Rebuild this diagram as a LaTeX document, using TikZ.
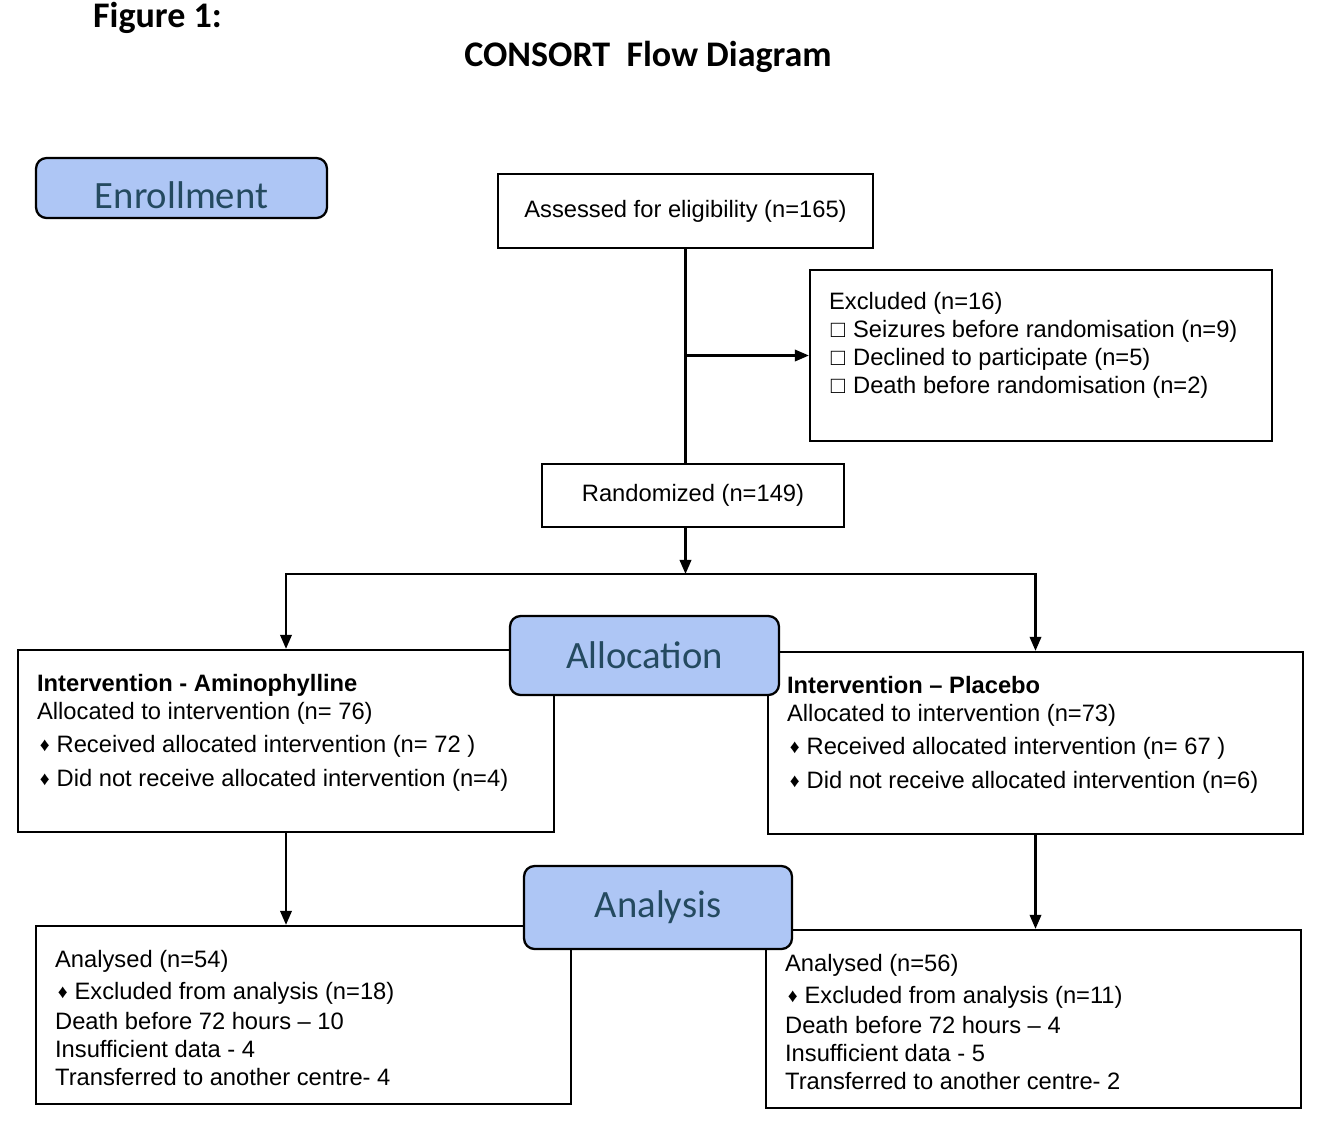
\documentclass[tikz,border=0pt]{standalone}
\usepackage{fontspec}
\setmainfont{Liberation Sans}
\newfontfamily\headfont{Carlito}
\usetikzlibrary{arrows.meta}
\definecolor{stageblue}{HTML}{AEC6F5}
\definecolor{stagetext}{HTML}{244A60}
\newcommand{\dmd}{\hspace{1.5pt}{\fontsize{11}{11}\selectfont\raisebox{0.1ex}{♦}}\hspace{4pt}}
\newcommand{\sqb}{\hspace{1pt}□\hspace{4.5pt}}
\tikzset{
  >={Triangle[length=8pt,width=6.5pt]},
  box/.style={draw=black, fill=white, line width=1.3pt, inner sep=0pt, font=\fontsize{13.5}{16}\selectfont},
  stage/.style={draw=black, fill=stageblue, rounded corners=6pt, line width=1.3pt, text=stagetext, font=\headfont\fontsize{22}{26}\selectfont},
  txt/.style={align=left, inner sep=0pt, anchor=north west, font=\fontsize{13.5}{15.9}\selectfont},
  head/.style={inner sep=0pt, font=\headfont\bfseries\fontsize{20.5}{24}\selectfont},
}
\begin{document}
\begin{tikzpicture}[x=0.02cm, y=-0.02cm, line width=1.3pt]
\useasboundingbox (0,0) rectangle (1328,1134);
% Titles
\node[head, anchor=base west] (figlabel) at (92,27) {Figure 1:};
\node[head, anchor=base] (title) at (648,66) {CONSORT\ \ Flow Diagram};
% Enrollment
\node[stage, minimum width=5.82cm, minimum height=1.2cm, text height=0.8cm, text depth=0pt] (enroll) at (181.5,188) {Enrollment};
% Assessed
\node[box, minimum width=7.5cm, minimum height=1.48cm] (assess) at (685.5,211) {Assessed for eligibility (n=165)};
% Excluded
\node[box, minimum width=9.24cm, minimum height=3.42cm] (excl) at (1041,355.5) {};
\node[txt] (excltxt) at (828,291) {Excluded (n=16)\\
\sqb Seizures before randomisation (n=9)\\
\sqb Declined to participate (n=5)\\
\sqb Death before randomisation (n=2)};
% Randomized
\node[box, minimum width=6.04cm, minimum height=1.26cm] (rand) at (693,495.5) {Randomized (n=149)};
% Lines to randomized and excluded
\draw (assess.south) -- (assess.south |- rand.north);
\draw[->] (assess.south |- excl.west) -- (excl.west);
% Split
\coordinate (split) at (685.5,574);
% Allocation boxes
\node[box, minimum width=10.72cm, minimum height=3.64cm] (amino) at (286,741) {};
\node[txt] (aminotxt) at (36,673) {\textbf{Intervention - Aminophylline}\\
Allocated to intervention (n= 76)\\[3pt]
\dmd Received allocated intervention (n= 72 )\\[3.5pt]
\dmd Did not receive allocated intervention (n=4)};
\node[box, minimum width=10.7cm, minimum height=3.64cm] (plac) at (1035.5,743) {};
\node[txt] (plactxt) at (786,675) {\textbf{Intervention – Placebo}\\
Allocated to intervention (n=73)\\[3pt]
\dmd Received allocated intervention (n= 67 )\\[3.5pt]
\dmd Did not receive allocated intervention (n=6)};
% Lines to allocation
\draw[->] (rand.south -| assess.south) -- (split);
\draw[->] (split) -| (amino.north);
\draw[->] (split) -| (plac.north);
% Analysis boxes
\node[box, minimum width=10.7cm, minimum height=3.56cm] (ana1) at (303.5,1015) {};
\node[txt] (ana1txt) at (54,949) {Analysed (n=54)\\[2.5pt]
\dmd Excluded from analysis (n=18)\\[1pt]
Death before 72 hours – 10\\
Insufficient data - 4\\
Transferred to another centre- 4};
\node[box, minimum width=10.7cm, minimum height=3.56cm] (ana2) at (1033.5,1019) {};
\node[txt] (ana2txt) at (784,953) {Analysed (n=56)\\[2.5pt]
\dmd Excluded from analysis (n=11)\\[1pt]
Death before 72 hours – 4\\
Insufficient data - 5\\
Transferred to another centre- 2};
% Lines to analysis
\draw[->] (amino.south) -- (amino.south |- ana1.north);
\draw[->] (plac.south) -- (plac.south |- ana2.north);
% Stage labels
\node[stage, minimum width=5.38cm, minimum height=1.58cm] (alloc) at (644.5,655.5) {Allocation};
\node[stage, minimum width=5.36cm, minimum height=1.66cm] (analysis) at (658,907.5) {Analysis};
\end{tikzpicture}
\end{document}
